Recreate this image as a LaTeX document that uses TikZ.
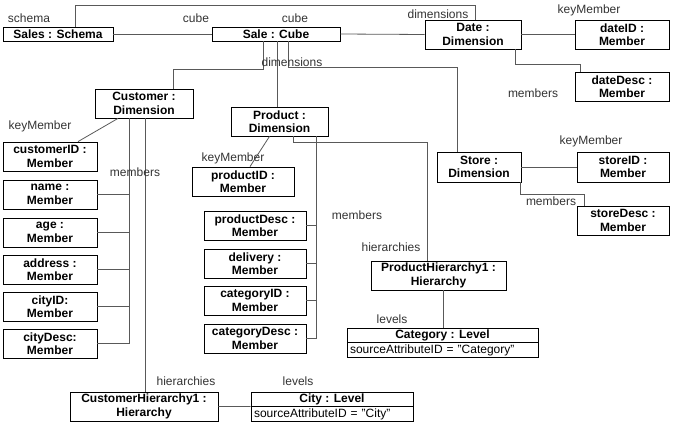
\documentclass[tikz,border=0pt]{standalone}
\usepackage{fontspec}
\setmainfont{Liberation Sans}
\begin{document}
\begin{tikzpicture}[x=1pt,y=-1pt,
    obj/.style={draw,line width=0.8pt,font=\fontsize{12}{13.5}\selectfont\bfseries,
        align=center,inner sep=0pt,minimum height=29pt},
    attr/.style={draw,line width=0.8pt,font=\fontsize{12}{13.5}\selectfont,
        align=left,inner xsep=3pt,inner ysep=0pt,minimum height=15pt},
    lbl/.style={font=\fontsize{12}{13.5}\selectfont,text=black!80,inner sep=0pt},
    link/.style={draw=black!65,line width=0.8pt}]
    \useasboundingbox (0,0) rectangle (677,428);

    % draw the schema, the cube and the dimensions
    \node[obj,minimum width=110pt,minimum height=14pt] (schema) at (58,34) {Sales : Schema};
    \node[obj,minimum width=128pt,minimum height=14pt] (cube) at (276,34) {Sale : Cube};
    \node[obj,minimum width=96pt] (date) at (473,34.5) {Date :\\Dimension};
    \node[obj,minimum width=98pt] (customer) at (144,103.5) {Customer :\\Dimension};
    \node[obj,minimum width=97pt] (product) at (279.5,121.5) {Product :\\Dimension};
    \node[obj,minimum width=84pt,minimum height=30pt] (store) at (479,167) {Store :\\Dimension};

    % members of date and store
    \node[obj,minimum width=94pt] (dateid) at (622,34.5) {dateID :\\Member};
    \node[obj,minimum width=94pt] (datedesc) at (622,86.5) {dateDesc :\\Member};
    \node[obj,minimum width=92pt,minimum height=30pt] (storeid) at (623,167) {storeID :\\Member};
    \node[obj,minimum width=92pt] (storedesc) at (623,220.5) {storeDesc :\\Member};

    % members of customer
    \foreach \m/\y/\mtext in {
        customerid/156.5/customerID :,
        name/194.5/name :,
        age/232.5/age :,
        address/269.5/address :,
        cityid/306.5/cityID:,
        citydesc/343.5/cityDesc:}
            \node[obj,minimum width=94pt] (\m) at (50,\y) {\mtext\\Member};

    % members of product
    \node[obj,minimum width=102pt] (productid) at (243,181.5) {productID :\\Member};
    \foreach \m/\y/\mtext in {
        productdesc/225.5/productDesc :,
        delivery/263.5/delivery :,
        categoryid/300.5/categoryID :,
        categorydesc/338.5/categoryDesc :}
            \node[obj,minimum width=102pt] (\m) at (255,\y) {\mtext\\Member};

    % hierarchies and levels
    \node[obj,minimum width=135pt] (prodhier) at (438.5,275.5) {ProductHierarchy1 :\\Hierarchy};
    \node[obj,minimum width=191pt,minimum height=14pt] (category) at (442.5,335) {Category : Level};
    \node[attr,text width=185pt,anchor=north] (categoryattr) at (category.south) {sourceAttributeID = "Category"};
    \node[obj,minimum width=148pt] (custhier) at (144,406.5) {CustomerHierarchy1 :\\Hierarchy};
    \node[obj,minimum width=162pt,minimum height=14pt] (city) at (332,399) {City : Level};
    \node[attr,text width=156pt,anchor=north] (cityattr) at (city.south) {sourceAttributeID = "City"};

    % connectors from the schema and the cube
    \draw[link] (schema.east) -- (cube.west);
    \draw[link] ([xshift=17]schema.north) |- ([xshift=2,yshift=14]date.north) -- ([xshift=2]date.north);
    \draw[link] (cube.east) -- (date.west);
    \draw[link] ([xshift=-13]cube.south) -- ++(0,28) -| ([xshift=29]customer.north);
    \draw[link] ([xshift=1]cube.south) -- ([xshift=-2.5]product.north);
    \draw[link] ([xshift=12]cube.south) -- ++(0,26) -| ([xshift=-22]store.north);

    % connectors of date and store
    \draw[link] (date.east) -- (dateid.west);
    \draw[link] ([xshift=42]date.south) -- ++(0,15) -| ([xshift=-42]datedesc.north);
    \draw[link] (store.east) -- (storeid.west);
    \draw[link] ([xshift=41]store.south) -- ++(0,12) -| ([xshift=-39]storedesc.north);

    % connectors of customer
    \draw[link] ([xshift=-26]customer.south) -- ([xshift=28]customerid.north);
    \coordinate (ctrunk) at ([xshift=-15]customer.south);
    \draw[link] (ctrunk) |- (citydesc.east);
    \foreach \m in {name,age,address,cityid}
        \draw[link] (\m.east) -- (\m.east -| ctrunk);
    \draw[link] ([xshift=1]customer.south) -- ([xshift=1]custhier.north);
    \draw[link] (custhier.east) -- (city.south west);

    % connectors of product
    \draw[link] ([xshift=-10]product.south) -- ([xshift=7]productid.north);
    \coordinate (ptrunk) at ([xshift=36.5]product.south);
    \draw[link] (ptrunk) |- (categorydesc.east);
    \foreach \m in {productdesc,delivery,categoryid}
        \draw[link] (\m.east) -- (\m.east -| ptrunk);
    \draw[link] ([xshift=13.5]product.south) -- ++(0,6) -| ([xshift=-11.5]prodhier.north);
    \draw[link] ([xshift=4.5]prodhier.south) -- ([xshift=0.5]category.north);

    % draw the role names
    \foreach \x/\y/\ltext in {
        29/18/schema,
        196/18/cube,
        295/18/cube,
        438/14/dimensions,
        589/10/keyMember,
        533/93/members,
        292/62/dimensions,
        40/126/keyMember,
        135/172/members,
        233/158/keyMember,
        357/215/members,
        591/141/keyMember,
        551/201/members,
        391/247/hierarchies,
        392/319/levels,
        186/381/hierarchies,
        298/381/levels}
            \node[lbl] (role-\x-\y) at (\x,\y) {\ltext};
\end{tikzpicture}
\end{document}
